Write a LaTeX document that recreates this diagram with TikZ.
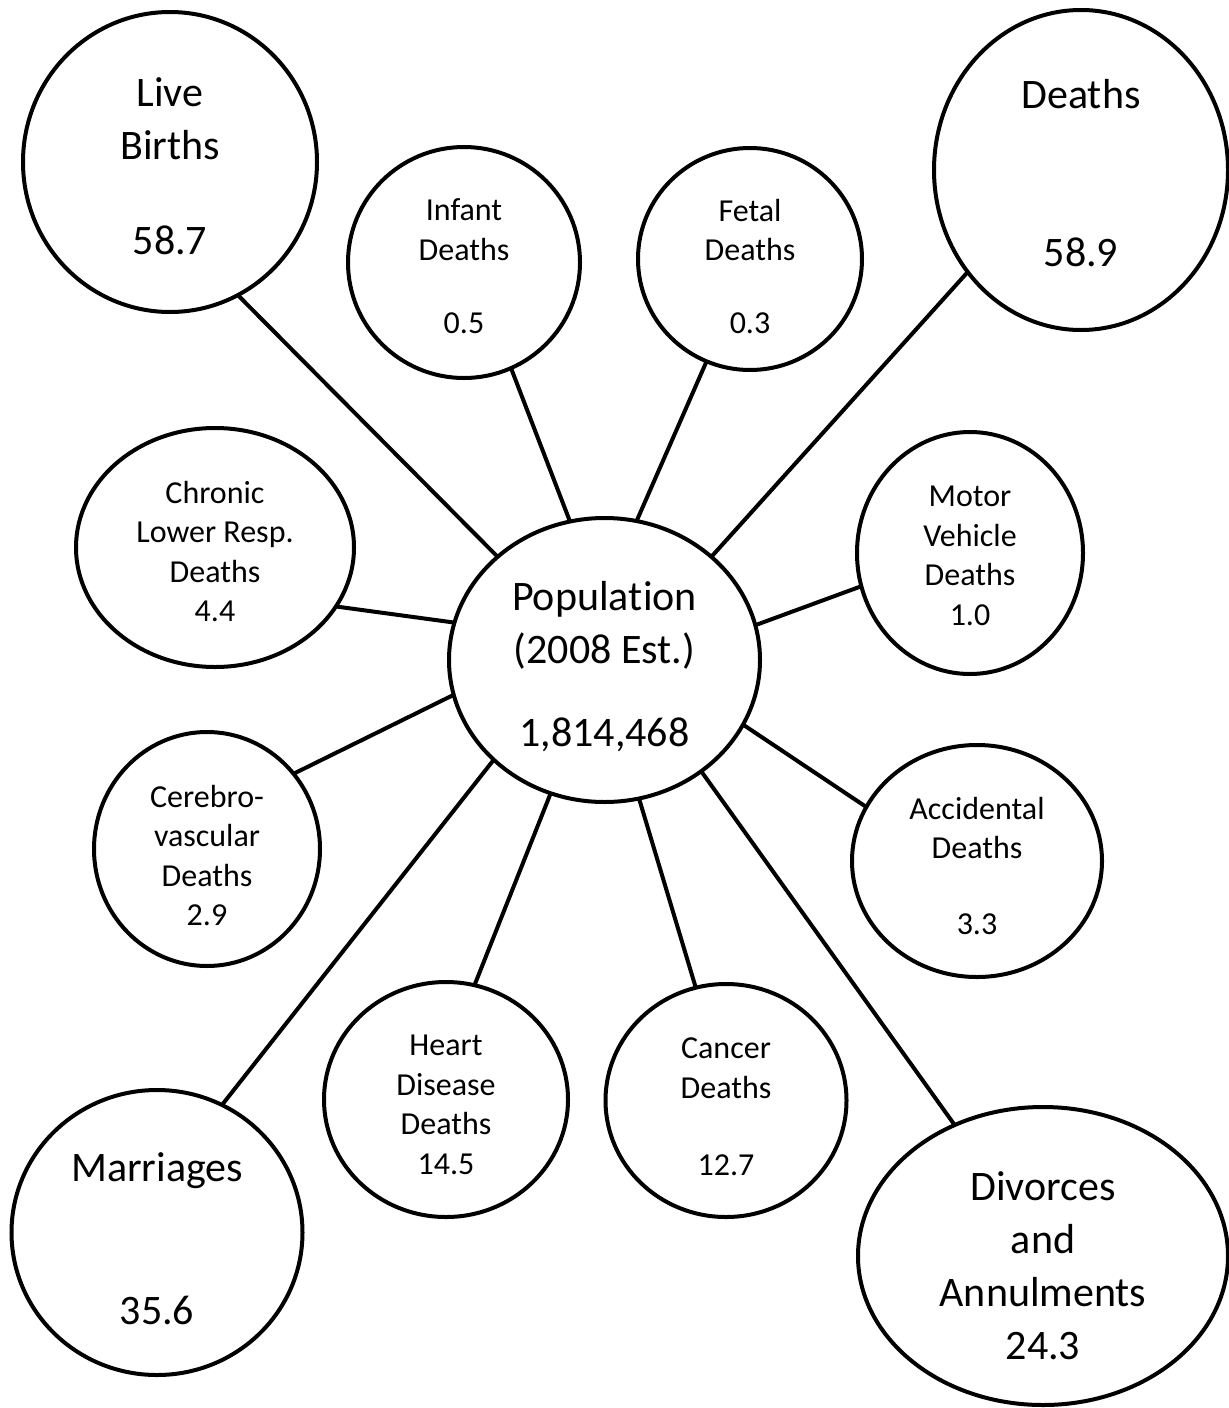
\documentclass[tikz,border=0pt]{standalone}
\usepackage{fontspec}
\setmainfont{Carlito}[Ligatures={NoCommon}]
\usetikzlibrary{shapes.geometric}
\newcommand{\myhgt}[1]{\rule{0pt}{#1}}
\begin{document}
\begin{tikzpicture}[x=0.5pt,y=-0.5pt,
  bub/.style={draw, ellipse, line width=2pt, inner sep=0pt, outer sep=0pt, align=center, text=black},
  sm/.style={bub, font=\fontsize{16}{19.7}\selectfont},
  lg/.style={bub, font=\fontsize{21}{26.5}\selectfont},
  link/.style={line width=2pt}]
\fill[white] (0,0) rectangle (1229,1408);
\useasboundingbox (0,0) rectangle (1229,1408);
% central node
\node[lg, minimum width=155.5pt, minimum height=142pt] (pop) at (604.5,660) {\myhgt{21.4pt}Popula\kern0pt tion\\(2008 Est.)\\[15pt]1,814,468\rule[-3pt]{0pt}{3pt}};
% large nodes
\node[lg, minimum width=147pt, minimum height=150pt] (live) at (170,162) {\myhgt{18.9pt}Live\\Births\\[21pt]58.7};
\node[lg, minimum width=147pt, minimum height=160pt] (deaths) at (1081,170) {\myhgt{17.4pt}Deaths\\[52.5pt]58.9};
\node[lg, minimum width=145.5pt, minimum height=142.5pt] (marr) at (157,1232.5) {\myhgt{20.9pt}Marriages\\[45pt]35.6};
\node[lg, minimum width=185pt, minimum height=149pt] (divor) at (1043,1256) {\myhgt{24.4pt}Divorces\\and\\Annulments\\24.3};
% small nodes
\node[sm, minimum width=116pt, minimum height=115.5pt] (infant) at (464,262.5) {\myhgt{14.7pt}Infant\\Deaths\\[16.8pt]0.5};
\node[sm, minimum width=112pt, minimum height=111pt] (fetal) at (750,259) {\myhgt{18.7pt}Fetal\\Deaths\\[16.8pt]0.3};
\node[sm, minimum width=139pt, minimum height=119.5pt] (chronic) at (215,547.5) {\myhgt{15.2pt}Chronic\\Lower Resp.\\Deaths\\4.4};
\node[sm, minimum width=113pt, minimum height=121pt] (motor) at (970,553) {\myhgt{13.2pt}Motor\\Vehicle\\Deaths\\1.0};
\node[sm, minimum width=113pt, minimum height=117pt] (cereb) at (207,849) {\myhgt{17.7pt}Cerebro-\\vascular\\Deaths\\2.9};
\node[sm, minimum width=125pt, minimum height=116pt] (accid) at (977,861) {\myhgt{16.2pt}Accidental\\Deaths\\[18.3pt]3.3};
\node[sm, minimum width=122pt, minimum height=117.5pt] (heart) at (446,1099.5) {\myhgt{15.7pt}Heart\\Disease\\Deaths\\14.5};
\node[sm, minimum width=120.5pt, minimum height=116.5pt] (cancer) at (726,1100.5) {\myhgt{16.7pt}Cancer\\Deaths\\[18.8pt]12.7};
% connectors
\draw[link] (pop.136.4) -- (live.-63.4);
\draw[link] (pop.104.0) -- (infant.-66.4);
\draw[link] (pop.77.1) -- (fetal.-113.5);
\draw[link] (pop.44.2) -- (deaths.-138.9);
\draw[link] (pop.166.6) -- (chronic.-26.4);
\draw[link] (pop.13.2) -- (motor.-163.6);
\draw[link] (pop.-167.2) -- (cereb.41.8);
\draw[link] (pop.-25.9) -- (accid.154.3);
\draw[link] (pop.-138.0) -- (marr.63.9);
\draw[link] (pop.-112.2) -- (heart.76.9);
\draw[link] (pop.-76.3) -- (cancer.105.8);
\draw[link] (pop.-49.7) -- (divor.124.9);
\end{tikzpicture}
\end{document}
